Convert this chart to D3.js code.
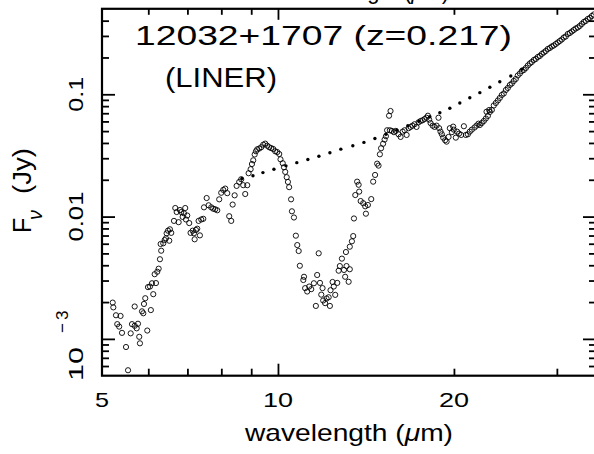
<!DOCTYPE html>
<html><head><meta charset="utf-8">
<script src="https://cdn.jsdelivr.net/npm/d3@7"></script>
<style>body{margin:0;background:#fff}svg{display:block}text{font-family:"Liberation Sans",Arial,sans-serif;fill:#000}</style>
</head><body>
<svg id="c" width="594" height="454"></svg>
<script>
// observed wavelength (micron) and flux density (Jy)
const wavelength = [5.215,5.228,5.283,5.310,5.350,5.379,5.410,5.496,5.540,5.598,5.627,5.687,5.687,5.732,5.761,5.790,5.806,5.853,5.883,5.899,5.929,5.976,5.993,6.040,6.061,6.088,6.119,6.153,6.184,6.216,6.250,6.282,6.313,6.299,6.364,6.400,6.432,6.450,6.484,6.534,6.517,6.568,6.639,6.673,6.710,6.762,6.797,6.832,6.870,6.905,6.940,6.959,6.995,7.050,7.087,7.146,7.182,7.202,7.239,7.276,7.315,7.353,7.392,7.451,7.472,7.551,7.610,7.689,7.749,7.810,7.873,7.934,7.997,8.061,8.124,8.189,8.253,8.318,8.365,8.431,8.497,8.584,8.652,8.721,8.790,8.860,8.908,
8.979,9.026,9.072,9.123,9.169,9.216,9.288,9.362,9.436,9.510,9.585,9.660,9.737,9.815,9.892,9.971,10.05,10.10,10.19,10.24,10.29,10.35,10.40,10.45,10.53,10.565,10.65,
10.73,10.79,10.85,10.90,11.05,11.08,11.13,11.22,11.31,11.40,11.52,11.61,11.67,11.74,11.80,11.86,11.92,11.95,12.04,12.11,12.21,12.27,12.30,12.40,12.46,12.53,12.63,12.70,12.76,12.864,12.97,13.03,13.07,13.10,13.21,13.27,13.27,13.381,13.45,
13.49,13.56,13.66,13.74,13.77,13.85,13.99,14.10,14.14,14.25,14.44,14.55,14.66,14.78,14.86,14.94,15.01,15.13,15.22,15.30,15.37,15.49,15.54,15.58,15.663,15.79,15.91,16.08,16.21,16.34,16.47,16.60,16.73,16.86,16.99,17.13,17.26,17.40,17.54,17.68,17.82,17.95,18.05,18.14,18.24,18.39,18.53,18.68,18.82,18.87,18.97,19.071,19.17,19.32,19.43,19.58,19.68,19.837,19.94,19.99,20.15,20.25,20.41,20.58,20.80,20.96,21.13,21.29,21.462,21.69,21.86,22.03,
22.15,22.32,22.50,22.68,22.74,22.86,22.98,23.04,23.22,23.40,23.59,23.78,23.96,24.15,24.34,24.54,24.73,24.93,25.12,25.32,25.52,25.72,25.93,26.13,26.34,26.55,26.76,26.97,27.18,27.40,27.61,27.83,28.05,28.27,28.50,28.72,28.95,29.18,29.41,29.64,29.87,30.11,30.35,30.59,30.83,31.07,31.32,31.57,31.82,32.07,32.32,32.58,32.83,33.10,33.36,33.62,33.89,34.16,34.43,34.70];
const flux = [0.00198,0.00181,0.00156,0.00132,0.00126,0.00154,0.00112,0.000858,0.000554,0.00111,0.00132,0.00184,0.00128,0.00122,0.00133,0.00104,0.000920,0.00168,0.00162,0.00193,0.00215,0.00117,0.00265,0.00268,0.00172,0.00285,0.00232,0.00338,0.00286,0.00354,0.00375,0.00448,0.00526,0.00597,0.00605,0.00643,0.00664,0.00730,0.00767,0.00787,0.00635,0.00736,0.00922,0.01175,0.0109,0.0090,0.01132,0.0109,0.00994,0.01064,0.01175,0.00947,0.0102,0.00885,0.00736,0.00767,0.00730,0.00652,0.00777,0.00796,0.00922,0.00702,0.00947,0.00959,0.0119,0.01418,0.01237,0.0119,0.0116,0.01147,0.01126,0.01384,0.01566,0.01653,0.01694,0.01554,0.01007,0.00922,0.01254,0.01492,0.01782,0.0192,0.0202,0.01806,0.0153,0.01806,0.02263,
0.0244,0.0269,0.02886,0.0322,0.0342,0.0355,0.0360,0.0369,0.0387,0.0395,0.0380,0.0369,0.0363,0.0357,0.0342,0.0337,0.0325,0.0294,0.0273,0.0253,0.0232,0.0210,0.0192,0.0174,0.01384,0.01105,0.00983,
0.00698,0.00585,0.00523,0.00396,0.00303,0.00322,0.00260,0.00244,0.00268,0.00255,0.00285,0.00186,0.00333,0.00501,0.00287,0.00230,0.00260,0.00206,0.00196,0.00214,0.00219,0.00186,0.00250,0.00292,0.00268,0.00229,0.00287,0.00361,0.00394,0.00453,0.00366,0.00322,0.00513,0.00394,0.00293,0.00371,0.00567,0.00628,0.00693,
0.00965,0.0150,0.0193,0.0182,0.0160,0.0134,0.01286,0.01213,0.01056,0.01244,0.0139,0.0193,0.0219,0.0271,0.0261,0.0323,0.0362,0.0394,0.0426,0.0454,0.0508,0.0668,0.0508,0.0730,0.0502,0.0490,0.0502,0.0471,0.0448,0.0495,0.0508,0.0465,0.0528,0.0541,0.0554,0.0569,0.0541,0.0590,0.0605,0.0613,0.0628,0.0643,0.0668,0.0620,0.0582,0.0554,0.0541,0.0554,0.0643,0.0528,0.0495,0.0471,0.0442,0.0421,0.0410,0.0448,0.0528,0.0490,0.0544,0.0514,0.0442,0.0495,0.0477,0.0465,0.0548,0.0465,0.0471,0.0495,0.0514,0.0535,0.0554,0.0575,
0.0561,0.0582,0.0605,0.0634,0.0720,0.0665,0.0744,0.0717,0.0744,0.0810,0.0849,0.0890,0.0933,0.0987,0.1015,0.1084,0.1126,0.1191,0.1225,0.1285,0.1334,0.1424,0.1479,0.1550,0.1580,0.1641,0.1720,0.1786,0.1837,0.1908,0.1944,0.2018,0.2057,0.2136,0.2197,0.2259,0.2346,0.2391,0.2460,0.2506,0.2577,0.2651,0.2728,0.2806,0.2913,0.2969,0.3112,0.3171,0.3262,0.3356,0.3452,0.3518,0.3619,0.3757,0.3902,0.3976,0.4128,0.4207,0.4368,0.4493];
// dotted continuum
const contWave = [8.677,9.062,9.425,9.842,10.32,10.77,11.25,11.75,12.27,12.81,13.43,14.03,14.65,15.30,15.97,16.68,17.42,18.19,18.92,19.68,20.47,21.29,22.15,23.04,23.96,25.02,26.13];
const contFlux = [0.0205,0.0216,0.0229,0.0244,0.0260,0.0276,0.0293,0.0311,0.0333,0.0356,0.0380,0.0404,0.0435,0.0471,0.0509,0.0553,0.0602,0.0656,0.0707,0.0768,0.0849,0.0938,0.1031,0.1141,0.1266,0.1412,0.1602];
const xTickLabels = [5, 10, 20];
const xMajorTicks = [10];
const xMinorTicks = [6, 7, 8, 9, 20, 30];
const yMajorTicks = [0.001, 0.01, 0.1];
const yMinorTicks = [6e-4,7e-4,8e-4,9e-4,0.002,0.003,0.004,0.005,0.006,0.007,0.008,0.009,0.02,0.03,0.04,0.05,0.06,0.07,0.08,0.09,0.2,0.3,0.4];
const titleText = "12032+1707 (z=0.217)";
const classText = "(LINER)";

const svg = d3.select("#c");
svg.append("rect").attr("width",594).attr("height",454).attr("fill","#fff");
const L=102, R=596, T=8.8, B=375.7;
const x = d3.scaleLog().domain([5,35]).range([L,R]);
const y = d3.scaleLog().domain([5e-4,0.5]).range([B,T]);

function ticks(axis, tr, w){
  const g = svg.append("g").attr("transform", tr).call(axis.tickFormat(""));
  g.select(".domain").remove();
  g.selectAll("line").attr("stroke","#000").attr("stroke-width",w);
  return g;
}
ticks(d3.axisBottom(x).tickValues(xMinorTicks).tickSize(-7), `translate(0,${B})`, 1.8);
ticks(d3.axisBottom(x).tickValues(xMajorTicks).tickSize(-12), `translate(0,${B})`, 1.8);
ticks(d3.axisTop(x).tickValues(xMinorTicks).tickSize(-6), `translate(0,${T})`, 1.8);
ticks(d3.axisTop(x).tickValues(xMajorTicks).tickSize(-11), `translate(0,${T})`, 1.8);
ticks(d3.axisLeft(y).tickValues(yMinorTicks).tickSize(-7), `translate(${L},0)`, 1.8);
ticks(d3.axisLeft(y).tickValues(yMajorTicks).tickSize(-13), `translate(${L},0)`, 1.8);
ticks(d3.axisRight(y).tickValues(yMinorTicks).tickSize(-7), `translate(${R},0)`, 1.8);
ticks(d3.axisRight(y).tickValues(yMajorTicks).tickSize(-13), `translate(${R},0)`, 1.8);

svg.append("rect").attr("x",L).attr("y",T).attr("width",R-L).attr("height",B-T)
  .attr("fill","none").attr("stroke","#000").attr("stroke-width",2.2);

// upper label, clipped by the picture edge as in the original
svg.append("text").attr("x",449).attr("y",-1).attr("text-anchor","end").attr("font-size",22)
  .html('wavelength (<tspan font-style="italic">μ</tspan>m)');

// data
const pts = wavelength.map((w,i)=>({w, f:flux[i]}));
svg.append("g").selectAll("circle").data(pts).join("circle")
  .attr("cx",d=>x(d.w)).attr("cy",d=>y(d.f)).attr("r",2.6)
  .attr("fill","none").attr("stroke","#000").attr("stroke-width",0.9);

const cont = contWave.map((w,i)=>({w, f:contFlux[i]}));
svg.append("g").selectAll("circle").data(cont).join("circle")
  .attr("cx",d=>x(d.w)).attr("cy",d=>y(d.f)).attr("r",1.7).attr("fill","#000");

// x tick labels
const xl = {5:14, 10:30, 20:30};
xTickLabels.forEach(v=>{
  svg.append("text").attr("x",x(v)).attr("y",407).attr("text-anchor","middle")
    .attr("font-size",21).attr("textLength",xl[v]).attr("lengthAdjust","spacingAndGlyphs").text(v);
});
// y tick labels
yMajorTicks.forEach(v=>{
  const g = svg.append("g").attr("transform",`translate(83,${y(v)}) rotate(-90)`);
  if (v === 0.001) {
    g.append("text").attr("x",-42).attr("y",0).attr("font-size",21)
      .attr("textLength",34).attr("lengthAdjust","spacingAndGlyphs").text("10");
    g.append("text").attr("x",6).attr("y",-15).attr("font-size",17)
      .attr("letter-spacing",3).text("\u22123");
  } else {
    const s = d3.format("")(v);
    g.append("text").attr("text-anchor","middle").attr("font-size",21)
      .attr("textLength", s.length===3?35:50).attr("lengthAdjust","spacingAndGlyphs").text(s);
  }
});

// axis titles
svg.append("text").attr("x",245).attr("y",441).attr("font-size",24)
  .attr("textLength",208).attr("lengthAdjust","spacingAndGlyphs")
  .html('wavelength (<tspan font-style="italic">μ</tspan>m)');
const yg = svg.append("g").attr("transform","translate(31,0) rotate(-90)");
yg.append("text").attr("x",-233).attr("y",0).attr("font-size",25).text("F");
yg.append("text").attr("x",-220).attr("y",11).attr("font-size",20).attr("font-style","italic").text("ν");
yg.append("text").attr("x",-194).attr("y",0).attr("font-size",25)
  .attr("textLength",46).attr("lengthAdjust","spacingAndGlyphs").text("(Jy)");

// annotations
svg.append("text").attr("x",135).attr("y",45).attr("font-size",28)
  .attr("textLength",377).attr("lengthAdjust","spacingAndGlyphs").text(titleText);
svg.append("text").attr("x",165).attr("y",87).attr("font-size",27)
  .attr("textLength",112).attr("lengthAdjust","spacingAndGlyphs").text(classText);
</script>
</body></html>
